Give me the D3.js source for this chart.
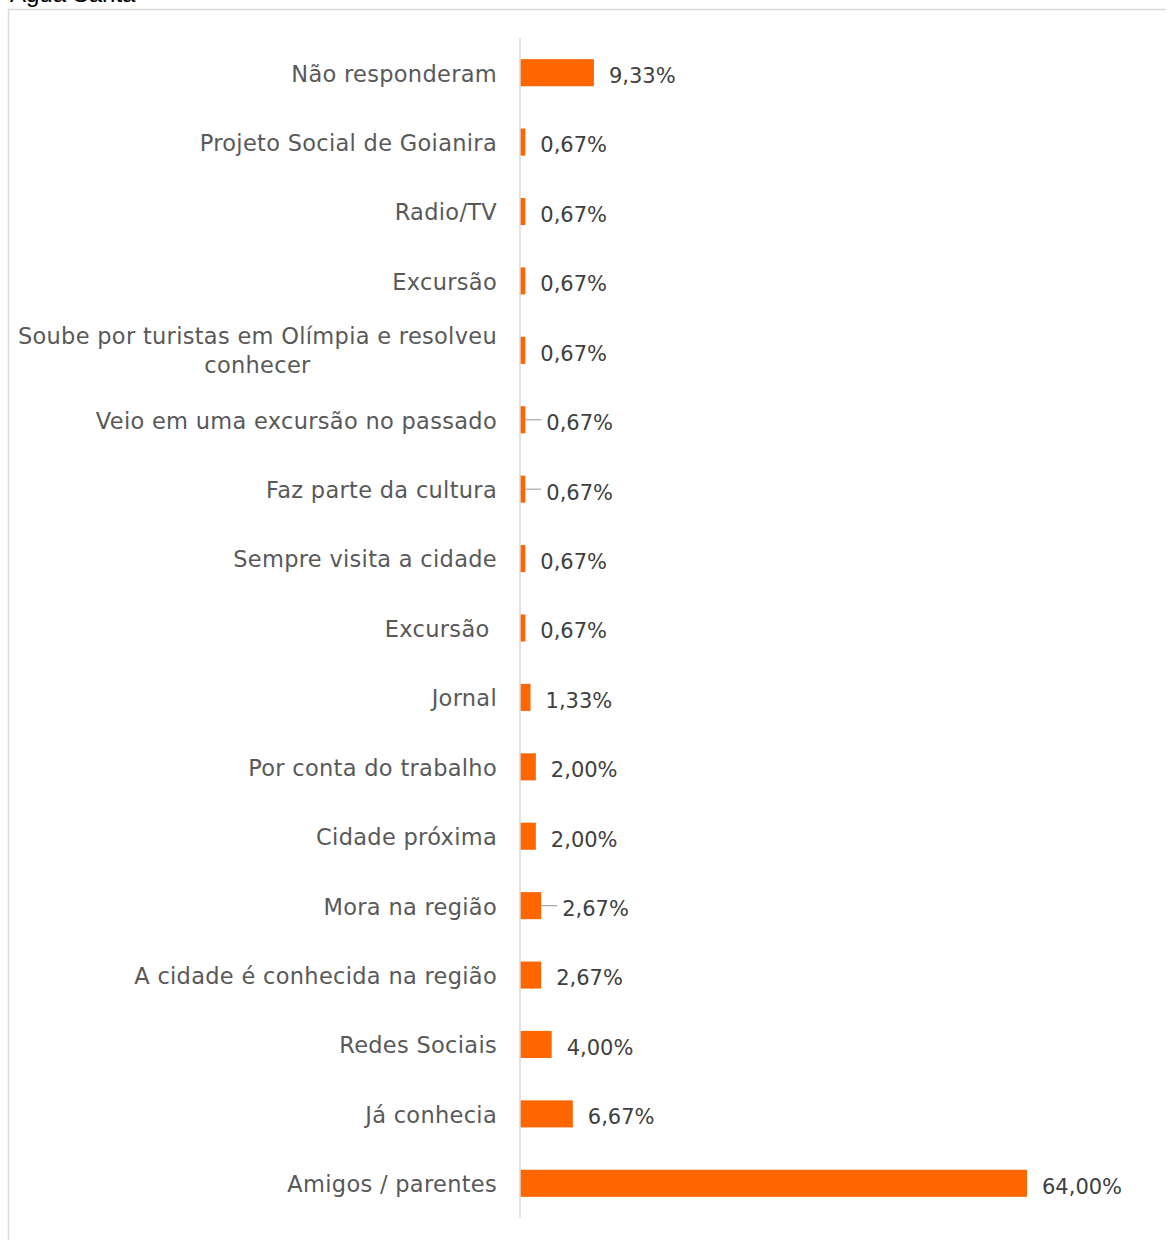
<!DOCTYPE html>
<html><head><meta charset="utf-8">
<script src="https://cdn.jsdelivr.net/npm/d3@7"></script>
<style>
html,body{margin:0;padding:0;background:#fff;}
svg{display:block;}
</style></head>
<body>
<script>
const titleText = "Água Santa";
const categories = [
  "Não responderam",
  "Projeto Social de Goianira",
  "Radio/TV",
  "Excursão",
  "Soube por turistas em Olímpia e resolveu|conhecer",
  "Veio em uma excursão no passado",
  "Faz parte da cultura",
  "Sempre visita a cidade",
  "Excursão\u00a0",
  "Jornal",
  "Por conta do trabalho",
  "Cidade próxima",
  "Mora na região",
  "A cidade é conhecida na região",
  "Redes Sociais",
  "Já conhecia",
  "Amigos / parentes"
];
const values = [9.33, 0.67, 0.67, 0.67, 0.67, 0.67, 0.67, 0.67, 0.67, 1.33, 2.00, 2.00, 2.67, 2.67, 4.00, 6.67, 64.00];
const valueLabels = ["9,33%","0,67%","0,67%","0,67%","0,67%","0,67%","0,67%","0,67%","0,67%","1,33%","2,00%","2,00%","2,67%","2,67%","4,00%","6,67%","64,00%"];
const hasLeader = [false,false,false,false,false,true,true,false,false,false,false,false,true,false,false,false,false];

const W = 1167, H = 1240;
const svg = d3.select("body").append("svg").attr("width", W).attr("height", H);
const FONT = "'DejaVu Sans', sans-serif";

// chart frame
svg.append("path").attr("d", `M8.5,${H} V9.5 H1166`).attr("fill","none").attr("stroke","#d9d9d9").attr("stroke-width",1.5);
svg.append("text").attr("x", 10).attr("y", 2).attr("font-family","'Liberation Sans', Arial, sans-serif")
  .attr("font-size", 24).attr("fill","#000").text(titleText);

const x0 = 520;
const x = d3.scaleLinear().domain([0, 64]).range([x0, 1027]);
const y = d3.scaleBand().domain(categories).range([38, 1218]).paddingInner(0.61).paddingOuter(0.305);

// bars
svg.selectAll("rect.bar").data(values).enter().append("rect")
  .attr("class","bar")
  .attr("x", x(0))
  .attr("y", (d,i) => y(categories[i]))
  .attr("width", d => x(d) - x(0))
  .attr("height", y.bandwidth())
  .attr("fill", "#ff6600");

// axis line
svg.append("line").attr("x1", x0).attr("x2", x0).attr("y1", 38).attr("y2", 1218)
  .attr("stroke", "#d9d9d9").attr("stroke-width", 1.5);

// category labels
const catG = svg.append("g").attr("font-family", FONT).attr("font-size", 22.5)
  .attr("letter-spacing", "0.3px").attr("fill", "#595959");
categories.forEach((c, i) => {
  const cy = y(c) + y.bandwidth()/2 + 1;
  const lines = c.split("|");
  if (lines.length === 1) {
    catG.append("text").attr("x", 497).attr("y", cy).attr("dy", "0.35em").attr("text-anchor","end").text(lines[0]);
  } else {
    const t1 = catG.append("text").attr("x", 497).attr("y", cy - 15).attr("dy","0.35em").attr("text-anchor","end").text(lines[0]);
    const w1 = t1.node().getComputedTextLength();
    catG.append("text").attr("x", 497 - w1/2).attr("y", cy + 14).attr("dy","0.35em").attr("text-anchor","middle").text(lines[1]);
  }
});

// value labels
const valG = svg.append("g").attr("font-family", FONT).attr("font-size", 21).attr("fill", "#404040");
values.forEach((v, i) => {
  const cy = y(categories[i]) + y.bandwidth()/2;
  const xe = x(v);
  const off = hasLeader[i] ? 21 : 15;
  if (hasLeader[i]) {
    svg.append("line").attr("x1", xe).attr("x2", xe + 16).attr("y1", cy).attr("y2", cy)
      .attr("stroke", "#a6a6a6").attr("stroke-width", 1.2);
  }
  valG.append("text").attr("x", xe + off).attr("y", cy + 3).attr("dy", "0.35em").text(valueLabels[i]);
});
</script>
</body></html>
